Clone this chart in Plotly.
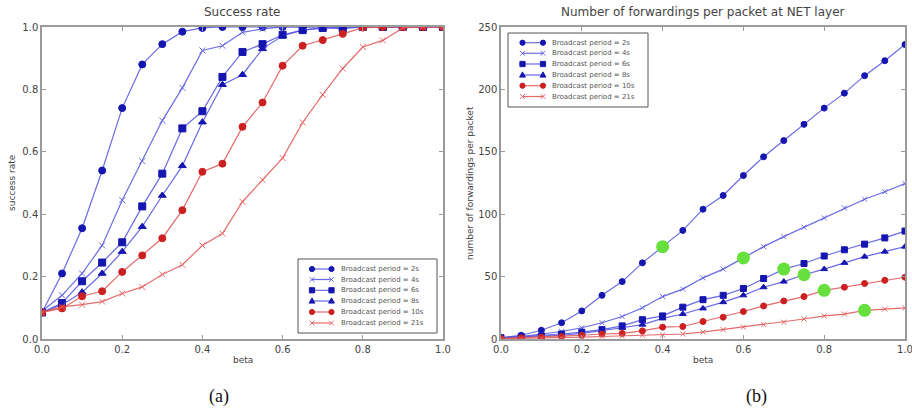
import plotly.graph_objects as go

beta = [0.0, 0.05, 0.1, 0.15, 0.2, 0.25, 0.3, 0.35, 0.4, 0.45, 0.5,
        0.55, 0.6, 0.65, 0.7, 0.75, 0.8, 0.85, 0.9, 0.95, 1.0]

series_names = ["Broadcast period = 2s", "Broadcast period = 4s", "Broadcast period = 6s",
                "Broadcast period = 8s", "Broadcast period = 10s", "Broadcast period = 21s"]

# (a) success rate
sr_2s = [0.085, 0.21, 0.355, 0.54, 0.74, 0.88, 0.945, 0.985, 0.997, 1, 1, 1, 1, 1, 1, 1, 1, 1, 1, 1, 1]
sr_4s = [0.09, 0.14, 0.21, 0.30, 0.445, 0.57, 0.70, 0.805, 0.925, 0.94, 0.983, 0.994, 1, 1, 1, 1, 1, 1, 1, 1, 1]
sr_6s = [0.085, 0.115, 0.185, 0.245, 0.31, 0.425, 0.53, 0.675, 0.73, 0.84, 0.92, 0.945, 0.975, 0.99, 0.997, 0.995, 1, 1, 1, 1, 1]
sr_8s = [0.085, 0.11, 0.15, 0.21, 0.28, 0.36, 0.46, 0.555, 0.695, 0.815, 0.847, 0.93, 0.972, 0.99, 0.997, 1, 1, 1, 1, 1, 1]
sr_10s = [0.085, 0.098, 0.137, 0.153, 0.215, 0.268, 0.323, 0.413, 0.536, 0.562, 0.68, 0.758, 0.876, 0.94, 0.958, 0.978, 0.998, 1, 1, 1, 1]
sr_21s = [0.085, 0.103, 0.11, 0.12, 0.146, 0.167, 0.207, 0.238, 0.30, 0.338, 0.44, 0.51, 0.58, 0.694, 0.783, 0.867, 0.936, 0.957, 0.997, 1, 1]

# (b) number of forwardings per packet
fw_2s = [1, 3, 7, 13, 22.5, 35, 46, 61, 74, 87, 104, 115, 131, 146, 159, 172, 185, 197, 211, 223, 236]
fw_4s = [1, 2, 4, 6, 9, 13, 18, 25, 34, 40, 49, 56, 65, 74, 82, 89.5, 97, 105, 112, 118, 124.5]
fw_6s = [1, 2, 2.5, 4, 5.5, 7.5, 10.5, 15.5, 18.5, 25.5, 31.5, 35, 40.5, 48.5, 56, 60.5, 66.5, 71.5, 76, 81, 86.5]
fw_8s = [1, 1.5, 2, 3, 4.5, 6.5, 9, 11.5, 16.5, 20, 24.5, 29.5, 35, 41.5, 46, 51.5, 56, 61, 66, 70, 74]
fw_10s = [0.5, 1, 1.5, 2, 3, 4, 4.5, 6.5, 9.5, 10, 14, 17.5, 22, 26.5, 30.5, 34, 39, 41.5, 44.5, 47, 49.5]
fw_21s = [0.3, 0.5, 0.8, 1, 1.5, 2, 2.5, 3, 3.3, 4, 5.5, 7.5, 9.5, 11.5, 13.5, 16, 18.5, 20, 23, 24, 25]

# highlighted points (green) on plot (b)
hl_beta = [0.4, 0.6, 0.7, 0.75, 0.8, 0.9]
hl_vals = [74, 65, 56, 51.5, 39, 23]

x_ticks = [0.0, 0.2, 0.4, 0.6, 0.8, 1.0]
x_ticklabels = ["0.0", "0.2", "0.4", "0.6", "0.8", "1.0"]
sr_ticks = [0.0, 0.2, 0.4, 0.6, 0.8, 1.0]
fw_ticks = [0, 50, 100, 150, 200, 250]

W, H = 912, 408
BLUE_L = "rgba(80,80,225,0.85)"
BLUE_M = "#1515b0"
BLUE_X = "rgba(90,90,230,0.9)"
RED_L = "rgba(225,80,80,0.85)"
RED_M = "#cc2020"
RED_X = "rgba(230,90,90,0.9)"
styles = [
    dict(lc=BLUE_L, mc=BLUE_M, sym="circle", size=7),
    dict(lc=BLUE_L, mc=BLUE_X, sym="x-thin", size=6),
    dict(lc=BLUE_L, mc=BLUE_M, sym="square", size=7),
    dict(lc=BLUE_L, mc=BLUE_M, sym="triangle-up", size=7),
    dict(lc=RED_L, mc=RED_M, sym="circle", size=7),
    dict(lc=RED_L, mc=RED_X, sym="x-thin", size=6),
]

sr_data = [sr_2s, sr_4s, sr_6s, sr_8s, sr_10s, sr_21s]
fw_data = [fw_2s, fw_4s, fw_6s, fw_8s, fw_10s, fw_21s]

fig = go.Figure()

for name, ys, st in zip(series_names, sr_data, styles):
    fig.add_trace(go.Scatter(
        x=beta, y=ys, name=name, mode="lines+markers", xaxis="x", yaxis="y", showlegend=False,
        line=dict(color=st["lc"], width=1.2),
        marker=dict(symbol=st["sym"], size=st["size"], color=st["mc"],
                    line=dict(color=st["mc"], width=1))))

for name, ys, st in zip(series_names, fw_data, styles):
    fig.add_trace(go.Scatter(
        x=beta, y=ys, name=name, mode="lines+markers", xaxis="x2", yaxis="y2", showlegend=False,
        line=dict(color=st["lc"], width=1.2),
        marker=dict(symbol=st["sym"], size=st["size"] - 1, color=st["mc"],
                    line=dict(color=st["mc"], width=1))))

fig.add_trace(go.Scatter(
    x=hl_beta, y=hl_vals, mode="markers", xaxis="x2", yaxis="y2", showlegend=False,
    marker=dict(symbol="circle", size=13, color="#66e03c")))

TXT = "#444444"
FRAME = "#9a9a9a"
axis_common = dict(
    showgrid=False, zeroline=False, showline=True, linecolor=FRAME, linewidth=1.5,
    mirror="ticks", ticks="inside", ticklen=4, tickcolor=FRAME, automargin=False,
    ticklabeloverflow="allow",
    tickfont=dict(family="DejaVu Sans", size=10, color=TXT),
)


def px(x):
    return x / W


def py(y):
    return 1 - y / H


shapes = []
annotations = []


def legend_box(x0, y0, x1, y1, rows_y, sx0, sx1, tx):
    shapes.append(dict(type="rect", xref="paper", yref="paper",
                       x0=px(x0), x1=px(x1), y0=py(y0), y1=py(y1),
                       line=dict(color="#555555", width=1), fillcolor="white", layer="above"))
    for name, st, yy in zip(series_names, styles, rows_y):
        shapes.append(dict(type="line", xref="paper", yref="paper",
                           x0=px(sx0), x1=px(sx1), y0=py(yy), y1=py(yy),
                           line=dict(color=st["lc"], width=1.2), layer="above"))
        for cx in (sx0, sx1):
            r = 2.6
            if st["sym"] == "circle":
                shapes.append(dict(type="circle", xref="paper", yref="paper",
                                   x0=px(cx - r), x1=px(cx + r), y0=py(yy + r), y1=py(yy - r),
                                   line=dict(color=st["mc"], width=1), fillcolor=st["mc"], layer="above"))
            elif st["sym"] == "square":
                shapes.append(dict(type="rect", xref="paper", yref="paper",
                                   x0=px(cx - r), x1=px(cx + r), y0=py(yy + r), y1=py(yy - r),
                                   line=dict(color=st["mc"], width=1), fillcolor=st["mc"], layer="above"))
            elif st["sym"] == "triangle-up":
                path = "M {} {} L {} {} L {} {} Z".format(
                    px(cx), py(yy - r - 0.5), px(cx - r - 0.3), py(yy + r - 0.5), px(cx + r + 0.3), py(yy + r - 0.5))
                shapes.append(dict(type="path", xref="paper", yref="paper", path=path,
                                   line=dict(color=st["mc"], width=1), fillcolor=st["mc"], layer="above"))
            else:
                rr = 2.4
                path = "M {} {} L {} {} M {} {} L {} {}".format(
                    px(cx - rr), py(yy - rr), px(cx + rr), py(yy + rr),
                    px(cx - rr), py(yy + rr), px(cx + rr), py(yy - rr))
                shapes.append(dict(type="path", xref="paper", yref="paper", path=path,
                                   line=dict(color=st["mc"], width=1), layer="above"))
        annotations.append(dict(text=name, x=px(tx), y=py(yy), xref="paper", yref="paper",
                                showarrow=False, xanchor="left", yanchor="middle",
                                font=dict(size=7, color="#555555")))


legend_box(298, 259, 437, 333, [269, 279.5, 290.3, 301, 312, 323], 312, 331.5, 339)
legend_box(508, 33, 648, 107, [42.7, 53.3, 64, 75, 85.7, 96.5], 522.5, 543, 550)

annotations += [
    dict(text="Success rate", x=px((42 + 443) / 2), y=py(12), xref="paper", yref="paper",
         showarrow=False, font=dict(size=12, color=TXT), xanchor="center", yanchor="middle"),
    dict(text="Number of forwardings per packet at NET layer", x=px((501 + 905) / 2), y=py(12),
         xref="paper", yref="paper", showarrow=False, font=dict(size=12, color=TXT),
         xanchor="center", yanchor="middle"),
    dict(text="beta", x=px((42 + 443) / 2), y=py(360), xref="paper", yref="paper", showarrow=False,
         font=dict(size=9, color=TXT), xanchor="center", yanchor="middle"),
    dict(text="beta", x=px((501 + 905) / 2), y=py(360), xref="paper", yref="paper", showarrow=False,
         font=dict(size=9, color=TXT), xanchor="center", yanchor="middle"),
    dict(text="success rate", x=px(12), y=py(183), xref="paper", yref="paper", showarrow=False,
         textangle=-90, font=dict(size=9, color=TXT), xanchor="center", yanchor="middle"),
    dict(text="number of forwardings per packet", x=px(470), y=py(183), xref="paper", yref="paper",
         showarrow=False, textangle=-90, font=dict(size=9, color=TXT), xanchor="center", yanchor="middle"),
    dict(text="(a)", x=px(219), y=py(396), xref="paper", yref="paper", showarrow=False,
         font=dict(family="Liberation Serif", size=18, color="#111111"), xanchor="center", yanchor="middle"),
    dict(text="(b)", x=px(756), y=py(396), xref="paper", yref="paper", showarrow=False,
         font=dict(family="Liberation Serif", size=18, color="#111111"), xanchor="center", yanchor="middle"),
]

fig.update_layout(
    width=W, height=H,
    margin=dict(l=0, r=0, t=0, b=0, autoexpand=False),
    paper_bgcolor="white", plot_bgcolor="white",
    font=dict(family="DejaVu Sans", color=TXT),
    showlegend=False,
    xaxis=dict(domain=[px(42), px(443)], range=[0, 1], tickvals=x_ticks, ticktext=x_ticklabels,
               anchor="y", **axis_common),
    yaxis=dict(domain=[py(339), py(27)], range=[0, 1], tickvals=sr_ticks, tickformat=".1f",
               anchor="x", **axis_common),
    xaxis2=dict(domain=[px(501), px(905)], range=[0, 1], tickvals=x_ticks, ticktext=x_ticklabels,
                anchor="y2", **axis_common),
    yaxis2=dict(domain=[py(339), py(27)], range=[0, 250], tickvals=fw_ticks,
                anchor="x2", **axis_common),
    shapes=shapes,
    annotations=annotations,
)

fig.write_html("out.html", config={"displayModeBar": False},
               post_script="document.body.style.margin='0';document.body.style.overflow='hidden';")
